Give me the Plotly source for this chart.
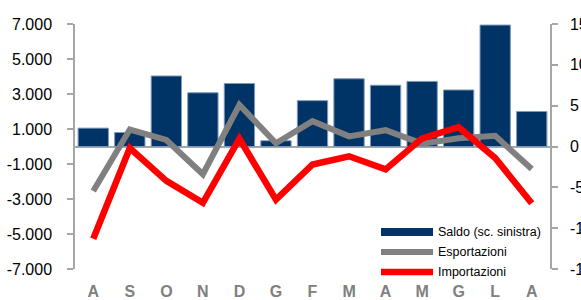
import plotly.graph_objects as go

months = ["A", "S", "O", "N", "D", "G", "F", "M", "A", "M", "G", "L", "A"]
saldo = [1050, 800, 4030, 3070, 3600, 330, 2620, 3870, 3500, 3720, 3230, 6940, 2000]
esportazioni = [-5.45, 2.07, 0.8, -3.4, 5.1, 0.4, 3.1, 1.24, 2.0, 0.35, 1.0, 1.3, -2.75]
importazioni = [-11.3, -0.2, -4.2, -6.9, 0.95, -6.5, -2.2, -1.2, -2.8, 1.0, 2.36, -1.4, -6.95]

left_ticks = [7000, 5000, 3000, 1000, -1000, -3000, -5000, -7000]
left_labels = ["7.000", "5.000", "3.000", "1.000", "-1.000", "-3.000", "-5.000", "-7.000"]
right_ticks = [15, 10, 5, 0, -5, -10, -15]
right_labels = ["15", "10", "5", "0", "-5", "-10", "-15"]

x = list(range(len(months)))

NAVY = "#003366"
GRAY = "#808080"
RED = "#ff0000"
FONT = "Liberation Sans, Arial, sans-serif"

fig = go.Figure()
fig.add_trace(go.Bar(x=x, y=saldo, name="Saldo (sc. sinistra)",
                     marker=dict(color=NAVY, line=dict(color="#7f99bb", width=1)),
                     yaxis="y"))
fig.add_trace(go.Scatter(x=x, y=esportazioni, name="Esportazioni", mode="lines",
                         line=dict(color=GRAY, width=6), yaxis="y2"))
fig.add_trace(go.Scatter(x=x, y=importazioni, name="Importazioni", mode="lines",
                         line=dict(color=RED, width=6.5), yaxis="y2"))

# manual legend (wide swatches as in the reference)
legend_items = [("Saldo (sc. sinistra)", NAVY, 8), ("Esportazioni", GRAY, 6), ("Importazioni", RED, 6.5)]
shapes = []
annotations = []
x0_px, x1_px, xt_px = 381, 433, 436
top_px = 232
W, H = 581, 300
L, R, T, B = 75, 31, 24, 31
pw, ph = W - L - R, H - T - B
def px_to_paper_x(px):
    return (px - L) / pw
def px_to_paper_y(py):
    return 1 - (py - T) / ph
for i, (label, color, w) in enumerate(legend_items):
    yy = top_px + 20 * i
    shapes.append(dict(type="line", xref="paper", yref="paper",
                       x0=px_to_paper_x(x0_px), x1=px_to_paper_x(x1_px),
                       y0=px_to_paper_y(yy), y1=px_to_paper_y(yy),
                       line=dict(color=color, width=w)))
    annotations.append(dict(xref="paper", yref="paper", x=px_to_paper_x(xt_px),
                            y=px_to_paper_y(yy), text=label, showarrow=False,
                            xanchor="left", yanchor="middle",
                            font=dict(family=FONT, size=12.5, color="black")))

fig.update_layout(
    width=W, height=H,
    margin=dict(l=L, r=R, t=T, b=B, pad=0, autoexpand=False),
    paper_bgcolor="white", plot_bgcolor="white",
    showlegend=False,
    bargap=0.17,
    shapes=shapes,
    annotations=annotations,
    xaxis=dict(tickmode="array", tickvals=x, ticktext=months,
               range=[-0.5, len(months) - 0.5], showgrid=False, zeroline=False,
               showline=False, ticks="", automargin=False,
               tickfont=dict(family=FONT, size=16, color=GRAY, weight="bold"),
               ticklabelstandoff=11),
    yaxis=dict(range=[-7000, 7000], tickmode="array", tickvals=left_ticks,
               ticktext=left_labels, showgrid=False, automargin=False,
               zeroline=True, zerolinecolor="#a6a6a6", zerolinewidth=1.5,
               showline=True, linecolor="#a6a6a6", linewidth=1.5,
               ticks="outside", ticklen=6, tickcolor="#a6a6a6", tickwidth=1.5,
               tickfont=dict(family=FONT, size=16, color="black"),
               ticklabelstandoff=12),
    yaxis2=dict(range=[-15, 15], overlaying="y", side="right", tickmode="array",
                tickvals=right_ticks, ticktext=right_labels, showgrid=False,
                zeroline=False, showline=True, linecolor="#a6a6a6", linewidth=1.5,
                ticks="outside", ticklen=6, tickcolor="#a6a6a6", tickwidth=1.5,
                automargin=False,
                tickfont=dict(family=FONT, size=16, color="black"),
                ticklabelstandoff=9),
)

fig.write_html("out.html", config={"displayModeBar": False},
               post_script="document.body.style.margin='0';document.body.style.overflow='hidden';")
